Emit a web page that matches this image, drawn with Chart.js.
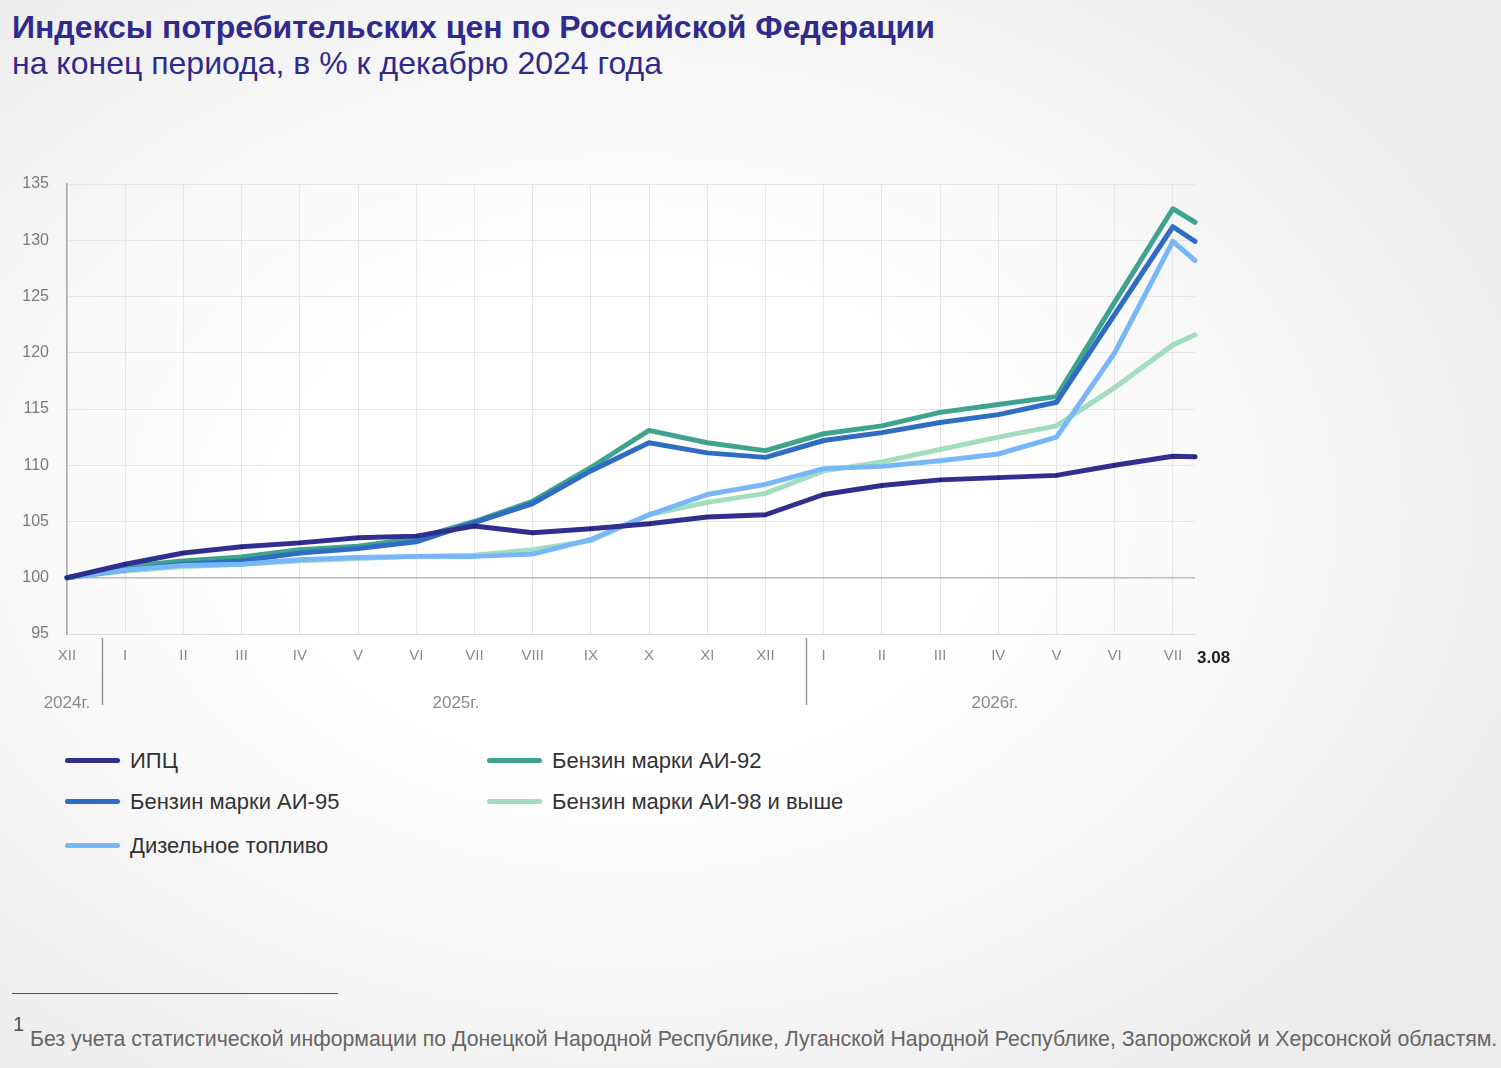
<!DOCTYPE html>
<html lang="ru">
<head>
<meta charset="utf-8">
<title>Индексы потребительских цен</title>
<script src="https://cdn.jsdelivr.net/npm/chart.js@4.4.1/dist/chart.umd.min.js"></script>
<style>
  html, body {
    margin: 0;
    padding: 0;
  }
  body {
    width: 1501px;
    height: 1068px;
    position: relative;
    overflow: hidden;
    font-family: "Liberation Sans", Arial, sans-serif;
    background: radial-gradient(ellipse 70% 70% at 42% 48%, #ffffff 35%, #f1f1f1 80%, #ebebeb 100%);
  }
  .title {
    position: absolute;
    left: 12px;
    top: 7px;
    font-size: 32px;
    line-height: 40px;
    font-weight: bold;
    color: #2f2b8e;
    white-space: nowrap;
  }
  .subtitle {
    position: absolute;
    left: 12px;
    top: 43px;
    font-size: 32px;
    line-height: 40px;
    color: #2f2b8e;
    white-space: nowrap;
  }
  #chartBox {
    position: absolute;
    left: 0;
    top: 0;
    width: 1501px;
    height: 740px;
  }
  .legend-item {
    position: absolute;
    height: 30px;
    line-height: 30px;
    font-size: 22px;
    color: #333;
    white-space: nowrap;
  }
  .legend-item .swatch {
    display: inline-block;
    width: 55px;
    height: 5px;
    border-radius: 3px;
    vertical-align: middle;
    margin-right: 10px;
    position: relative;
    top: -2px;
  }
  .foot-line {
    position: absolute;
    left: 12px;
    top: 993px;
    width: 326px;
    height: 1px;
    background: #555;
  }
  .foot-num {
    position: absolute;
    left: 13px;
    top: 1013px;
    font-size: 20px;
    color: #555;
  }
  .foot-text {
    position: absolute;
    left: 30px;
    top: 1026px;
    font-size: 21.3px;
    line-height: 26px;
    color: #666;
    white-space: nowrap;
  }
</style>
</head>
<body>
<div class="title">Индексы потребительских цен по Российской Федерации</div>
<div class="subtitle">на конец периода, в % к декабрю 2024 года</div>

<div id="chartBox"><canvas id="pricesChart" width="1501" height="740"></canvas></div>
<div id="legend"></div>

<div class="foot-line"></div>
<div class="foot-num">1</div>
<div class="foot-text">Без учета статистической информации по Донецкой Народной Республике, Луганской Народной Республике, Запорожской и Херсонской областям.</div>

<script>
// месяцы: XII 2024, I–XII 2025, I–VII 2026, последняя точка — 3 августа
const monthLabels = ["XII", "I", "II", "III", "IV", "V", "VI", "VII", "VIII", "IX", "X", "XI", "XII",
  "I", "II", "III", "IV", "V", "VI", "VII"];
const lastLabel = "3.08";
const xPositions = [0, 1, 2, 3, 4, 5, 6, 7, 8, 9, 10, 11, 12, 13, 14, 15, 16, 17, 18, 19, 19.38];

const yearLabels = ["2024г.", "2025г.", "2026г."];
const yearLabelAt = [0, 6.68, 15.94];
const yearDividersAt = [0.6, 12.7];

const yTicks = [95, 100, 105, 110, 115, 120, 125, 130, 135];

const cpi = [100, 101.2, 102.2, 102.75, 103.1, 103.55, 103.7, 104.6, 104.0, 104.35, 104.8, 105.4, 105.6,
  107.4, 108.2, 108.7, 108.9, 109.1, 110.0, 110.8, 110.75];
const ai92 = [100, 101.0, 101.5, 101.85, 102.5, 102.8, 103.5, 105.0, 106.8, 109.8, 113.1, 112.0, 111.3,
  112.8, 113.5, 114.7, 115.4, 116.1, 124.5, 132.8, 131.6];
const ai95 = [100, 100.7, 101.2, 101.5, 102.2, 102.6, 103.2, 104.9, 106.6, 109.5, 112.0, 111.1, 110.7,
  112.2, 112.9, 113.8, 114.5, 115.6, 123.4, 131.2, 129.9];
const ai98 = [100, 100.6, 101.0, 101.2, 101.5, 101.7, 101.9, 102.0, 102.5, 103.3, 105.6, 106.7, 107.5,
  109.5, 110.3, 111.4, 112.5, 113.5, 116.9, 120.7, 121.6];
const diesel = [100, 100.7, 101.1, 101.2, 101.6, 101.8, 101.9, 101.9, 102.1, 103.4, 105.6, 107.4, 108.3,
  109.7, 109.9, 110.4, 111.0, 112.5, 120.0, 129.9, 128.2];

const series = [
  { label: "ИПЦ", data: cpi, color: "#2f2f90", legend: [65, 746] },
  { label: "Дизельное топливо", data: diesel, color: "#78b7f7", legend: [65, 831] },
  { label: "Бензин марки АИ-95", data: ai95, color: "#2f6cc4", legend: [65, 787] },
  { label: "Бензин марки АИ-92", data: ai92, color: "#3ea48f", legend: [487, 746] },
  { label: "Бензин марки АИ-98 и  выше", data: ai98, color: "#a3dcbe", legend: [487, 787] },
];

const toPoints = (values) => values.map((v, i) => ({ x: xPositions[i], y: v }));

// подписи годов, разделители и последняя дата под осью
const yearsPlugin = {
  id: "years",
  afterDraw(chart) {
    const { ctx, scales } = chart;
    const x = scales.x;
    ctx.save();
    ctx.strokeStyle = "#9a9a9a";
    ctx.lineWidth = 1.5;
    yearDividersAt.forEach((v) => {
      const px = Math.round(x.getPixelForValue(v)) + 0.5;
      ctx.beginPath();
      ctx.moveTo(px, 638);
      ctx.lineTo(px, 705);
      ctx.stroke();
    });
    ctx.fillStyle = "#8a8a8a";
    ctx.font = "17px 'Liberation Sans', Arial, sans-serif";
    ctx.textAlign = "center";
    ctx.textBaseline = "middle";
    yearLabels.forEach((t, i) => {
      ctx.fillText(t, x.getPixelForValue(yearLabelAt[i]), 703);
    });
    ctx.fillStyle = "#222";
    ctx.font = "bold 17px 'Liberation Sans', Arial, sans-serif";
    ctx.textAlign = "left";
    ctx.fillText(lastLabel, x.right + 2, 658);
    ctx.restore();
  },
};

const ctx = document.getElementById("pricesChart").getContext("2d");
const pricesChart = new Chart(ctx, {
  type: "line",
  data: {
    datasets: series.map((s, i) => ({
      label: s.label,
      data: toPoints(s.data),
      borderColor: s.color,
      backgroundColor: s.color,
      borderWidth: 5,
      pointRadius: i === 0 ? 2.5 : 0,
      pointStyle: "rect",
      pointBackgroundColor: "#25257a",
      pointBorderWidth: 0,
      tension: 0,
      borderJoinStyle: "round",
      borderCapStyle: "round",
    })),
  },
  options: {
    responsive: false,
    animation: false,
    clip: false,
    layout: {
      padding: { top: 184, right: 306, left: 0, bottom: 0 },
    },
    scales: {
      x: {
        type: "linear",
        min: 0,
        max: xPositions[xPositions.length - 1],
        afterBuildTicks: (scale) => {
          scale.ticks = monthLabels.map((m, i) => ({ value: i }));
        },
        afterFit: (scale) => {
          scale.height = 106;
        },
        ticks: {
          color: "#8a8a8a",
          padding: 13,
          maxRotation: 0,
          autoSkip: false,
          font: { size: 15, family: "'Liberation Sans', Arial, sans-serif" },
          callback: function (value) {
            return monthLabels[value];
          },
        },
        grid: {
          color: "#e6e6e6",
          drawTicks: false,
        },
        border: { color: "#dddddd" },
      },
      y: {
        min: 95,
        max: 135,
        afterBuildTicks: (scale) => {
          scale.ticks = yTicks.map((v) => ({ value: v }));
        },
        afterFit: (scale) => {
          scale.width = 67;
        },
        ticks: {
          color: "#7a7a7a",
          padding: 18,
          font: { size: 16, family: "'Liberation Sans', Arial, sans-serif" },
        },
        grid: {
          color: (c) => (c.tick && c.tick.value === 100 ? "#b9b9b9" : "#e6e6e6"),
          lineWidth: (c) => (c.tick && c.tick.value === 100 ? 1.5 : 1),
          drawTicks: false,
        },
        border: { color: "#a8a8a8", width: 1.5 },
      },
    },
    plugins: {
      legend: { display: false },
      tooltip: { enabled: false },
    },
  },
  plugins: [yearsPlugin],
});

// легенда в две колонки
const legendBox = document.getElementById("legend");
series.forEach((s) => {
  const item = document.createElement("div");
  item.className = "legend-item";
  item.style.left = s.legend[0] + "px";
  item.style.top = s.legend[1] + "px";
  item.innerHTML = '<span class="swatch" style="background:' + s.color + '"></span>' + s.label;
  legendBox.appendChild(item);
});
</script>
</body>
</html>
